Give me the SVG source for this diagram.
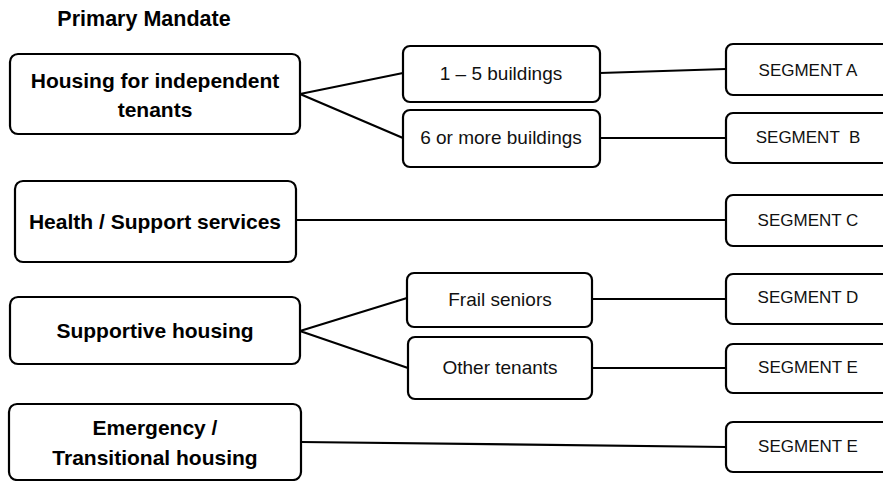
<svg xmlns="http://www.w3.org/2000/svg" width="883" height="481" viewBox="0 0 883 481">
<style>
.box{fill:#fff;stroke:#000;stroke-width:2.2}
.big{font-family:"Liberation Sans",Arial,sans-serif;font-weight:bold;font-size:21px;fill:#000;text-anchor:middle}
.small{font-family:"Liberation Sans",Arial,sans-serif;font-size:19px;fill:#111;text-anchor:middle}
.seg{font-family:"Liberation Sans",Arial,sans-serif;font-size:17px;fill:#111;text-anchor:middle}
.title{font-family:"Liberation Sans",Arial,sans-serif;font-weight:bold;font-size:21.5px;fill:#000;text-anchor:middle}
.conn{stroke:#000;stroke-width:2.2;fill:none}
</style>
<rect width="883" height="481" fill="#fff"/>
<text class="title" x="144" y="26">Primary Mandate</text>
<g id="connectors">
<path class="conn" d="M300,94 L403,73 M300,94 L403,138"/>
<path class="conn" d="M600,73 L726,69"/>
<path class="conn" d="M600,138 L726,138"/>
<path class="conn" d="M296,220 L726,220"/>
<path class="conn" d="M300,331 L407,298 M300,331 L408,368"/>
<path class="conn" d="M592,299 L726,299"/>
<path class="conn" d="M592,368 L726,368"/>
<path class="conn" d="M301,442 L726,447"/>
</g>
<g id="n-housing"><rect class="box" x="10" y="54" width="290" height="80" rx="8"/><text class="big" x="155" y="88">Housing for independent</text><text class="big" x="155" y="117">tenants</text></g>
<g id="n-health"><rect class="box" x="15" y="181" width="281" height="81" rx="8"/><text class="big" x="155" y="229">Health / Support services</text></g>
<g id="n-supportive"><rect class="box" x="10" y="297" width="290" height="67" rx="8"/><text class="big" x="155" y="338">Supportive housing</text></g>
<g id="n-emergency"><rect class="box" x="9" y="404" width="292" height="76" rx="8"/><text class="big" x="155" y="435">Emergency /</text><text class="big" x="155" y="465">Transitional housing</text></g>
<g id="n-1-5"><rect class="box" x="403" y="46" width="197" height="56" rx="7"/><text class="small" x="501" y="80">1 – 5 buildings</text></g>
<g id="n-6more"><rect class="box" x="403" y="110" width="197" height="57" rx="7"/><text class="small" x="501" y="144">6 or more buildings</text></g>
<g id="n-frail"><rect class="box" x="407" y="273" width="185" height="54" rx="7"/><text class="small" x="500" y="306">Frail seniors</text></g>
<g id="n-other"><rect class="box" x="408" y="337" width="184" height="62" rx="7"/><text class="small" x="500" y="374">Other tenants</text></g>
<g id="n-segA"><rect class="box" x="726" y="44" width="164" height="51" rx="7"/><text class="seg" x="808" y="76">SEGMENT A</text></g>
<g id="n-segB"><rect class="box" x="726" y="113" width="164" height="50" rx="7"/><text class="seg" x="808" y="143" xml:space="preserve">SEGMENT  B</text></g>
<g id="n-segC"><rect class="box" x="726" y="195" width="164" height="51" rx="7"/><text class="seg" x="808" y="226">SEGMENT C</text></g>
<g id="n-segD"><rect class="box" x="726" y="274" width="164" height="50" rx="7"/><text class="seg" x="808" y="303">SEGMENT D</text></g>
<g id="n-segE1"><rect class="box" x="726" y="344" width="164" height="49" rx="7"/><text class="seg" x="808" y="373">SEGMENT E</text></g>
<g id="n-segE2"><rect class="box" x="726" y="422" width="164" height="50" rx="7"/><text class="seg" x="808" y="452">SEGMENT E</text></g>
</svg>
